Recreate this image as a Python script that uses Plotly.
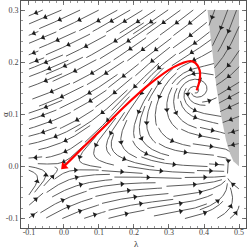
import math
import numpy as np
import plotly.graph_objects as go

# ---------------- chart values ----------------
X_RANGE = [-0.1228, 0.5200]
Y_RANGE = [-0.1183, 0.3173]
FIELD_X = [-0.1, 0.5]
FIELD_Y = [-0.1, 0.3]

# phase-portrait model (fixed points)
SADDLE_DIRS = [[1.0, -0.05], [1.0, 0.67]]   # unstable, stable eigen-directions at (0,0)
SADDLE_RATES = [1.0, -1.0]
FOCUS_POINT = [0.375, 0.143]                # unstable focus (counter-clockwise)
FOCUS_RATES = [0.5, 1.6]                    # growth, rotation
FOCUS_RADIUS_PX = 48.0
NODE_POINT = [0.466, -0.018]                # attracting point below the tip of the shaded region
NODE_RATES = [-20.0, -10.0, -1.0]           # horizontal, vertical (below), vertical (above)
NODE_RADIUS_PX = 36.0

# shaded (excluded) region boundary
BOUNDARY_Y = [0.0, 0.01, 0.025, 0.05, 0.1, 0.15, 0.2, 0.25, 0.3]
BOUNDARY_X = [0.5, 0.484, 0.474, 0.463, 0.448, 0.436, 0.427, 0.418, 0.41]
GRAY_FLOW_Y = [0.0, 0.05, 0.165, 0.3]
GRAY_FLOW_SLOPE = [0.1, 0.15, 0.45, 2.0]

# highlighted (red) trajectory, from origin to the focus
RED_X = [0.0, 0.06, 0.1223, 0.1708, 0.2478, 0.3133, 0.3618, 0.376, 0.3875, 0.3875, 0.379]
RED_Y = [0.0, 0.040, 0.0808, 0.1135, 0.1596, 0.1904, 0.2019, 0.198, 0.1846, 0.1654, 0.146]

X_TICKS = [-0.1, 0.0, 0.1, 0.2, 0.3, 0.4, 0.5]
X_TICK_TEXT = ["-0.1", "0.0", "0.1", "0.2", "0.3", "0.4", "0.5"]
Y_TICKS = [-0.1, 0.0, 0.1, 0.2, 0.3]
Y_TICK_TEXT = ["-0.1", "0.0", "0.1", "0.2", "0.3"]

# ---------------- geometry ----------------
W, H = 249, 249
ML, MR, MT, MB = 21, 3, 1, 21
PW, PH = W - ML - MR, H - MT - MB
SX = PW / (X_RANGE[1] - X_RANGE[0])
SY = PH / (Y_RANGE[1] - Y_RANGE[0])

V = np.array(SADDLE_DIRS).T
J0 = (V @ np.diag(SADDLE_RATES) @ np.linalg.inv(V)).tolist()
sg, om = FOCUS_RATES
JF = [[sg, -om * SY / SX], [om * SX / SY, sg]]
F0, F1 = FOCUS_POINT
RF2 = FOCUS_RADIUS_PX ** 2
N0, N1 = NODE_POINT
RN2 = NODE_RADIUS_PX ** 2


def in_gray(x, y):
    if y < BOUNDARY_Y[0] or y > BOUNDARY_Y[-1] or x > 0.5:
        return False
    return x >= float(np.interp(y, BOUNDARY_Y, BOUNDARY_X))


def white_vel(x, y):
    dx, dy = x - F0, y - F1
    wf = math.exp(-((dx * SX) ** 2 + (dy * SY) ** 2) / RF2)
    ex, ey = x - N0, y - N1
    wn = math.exp(-((ex * SX) ** 2 + (ey * SY) ** 2) / RN2)
    ax = J0[0][0] * x + J0[0][1] * y
    ay = J0[1][0] * x + J0[1][1] * y
    bx = JF[0][0] * dx + JF[0][1] * dy
    by = JF[1][0] * dx + JF[1][1] * dy
    cx = NODE_RATES[0] * ex
    cy = (NODE_RATES[1] if ey < 0 else NODE_RATES[2]) * ey
    w0 = max(0.0, 1 - wf - wn)
    return w0 * ax + wf * bx + wn * cx, w0 * ay + wf * by + wn * cy


def gray_vel(x, y):
    k = float(np.interp(y, GRAY_FLOW_Y, GRAY_FLOW_SLOPE))
    return -1.0, -k


def to_data(X, Y):
    return X / SX + X_RANGE[0], Y / SY + Y_RANGE[0]


def dir_px(X, Y, region):
    x, y = to_data(X, Y)
    if x < FIELD_X[0] or x > FIELD_X[1] or y < FIELD_Y[0] or y > FIELD_Y[1]:
        return None
    if in_gray(x, y) != region:
        return None
    vx, vy = gray_vel(x, y) if region else white_vel(x, y)
    if not region and math.hypot(vx, vy) < 0.003:
        return None
    ux, uy = vx * SX, vy * SY
    n = math.hypot(ux, uy)
    return ux / n, uy / n


DSEP, DTEST, STEP, HALF = 6.5, 3.0, 0.8, 34.0
grid = {}


def too_close(X, Y, d):
    ci, cj = int(X // DSEP), int(Y // DSEP)
    for i in range(ci - 1, ci + 2):
        for j in range(cj - 1, cj + 2):
            for (px, py) in grid.get((i, j), ()):
                if (px - X) ** 2 + (py - Y) ** 2 < d * d:
                    return True
    return False


def trace(X, Y, region, sign, others):
    pts = []
    prev = None
    for _ in range(int(HALF / STEP)):
        d1 = dir_px(X, Y, region)
        if d1 is None:
            break
        Xm, Ym = X + sign * 0.5 * STEP * d1[0], Y + sign * 0.5 * STEP * d1[1]
        d2 = dir_px(Xm, Ym, region)
        if d2 is None:
            break
        if prev is not None and d2[0] * prev[0] + d2[1] * prev[1] < 0.3:
            break
        Xn, Yn = X + sign * STEP * d2[0], Y + sign * STEP * d2[1]
        if too_close(Xn, Yn, DTEST):
            break
        bad = False
        for (qx, qy) in pts[:-12] + others:
            if (qx - Xn) ** 2 + (qy - Yn) ** 2 < DTEST * DTEST:
                bad = True
                break
        if bad:
            break
        pts.append((Xn, Yn))
        X, Y, prev = Xn, Yn, d2
    return pts


lines = {False: [], True: []}
X_lo, X_hi = (FIELD_X[0] - X_RANGE[0]) * SX, (FIELD_X[1] - X_RANGE[0]) * SX
Y_lo, Y_hi = (FIELD_Y[0] - Y_RANGE[0]) * SY, (FIELD_Y[1] - Y_RANGE[0]) * SY
Ys = np.arange(Y_lo + 2, Y_hi - 1, DSEP)
Xs = np.arange(X_lo + 2, X_hi - 1, DSEP)
for Y0 in Ys[::-1]:
    for X0 in Xs:
        if too_close(X0, Y0, DSEP):
            continue
        x0, y0 = to_data(X0, Y0)
        region = in_gray(x0, y0)
        if dir_px(X0, Y0, region) is None:
            continue
        fw = trace(X0, Y0, region, 1, [])
        bw = trace(X0, Y0, region, -1, fw[6:])
        line = bw[::-1] + [(X0, Y0)] + fw
        if len(line) * STEP < 9:
            continue
        for (px, py) in line:
            grid.setdefault((int(px // DSEP), int(py // DSEP)), []).append((px, py))
        lines[region].append(line)

# arrows
ax_x, ax_y, ax_ang = [], [], []
for reg in (False, True):
    for line in lines[reg]:
        L = (len(line) - 1) * STEP
        n = max(1, int(L / 48 + 0.5))
        for k in range(n):
            i = int((k + 0.5) / n * (len(line) - 1))
            i = min(max(i, 0), len(line) - 2)
            dX = line[i + 1][0] - line[i][0]
            dY = line[i + 1][1] - line[i][1]
            x, y = to_data(*line[i])
            ax_x.append(x)
            ax_y.append(y)
            ax_ang.append(math.degrees(math.atan2(dX, dY)))


def flat(ls):
    xs, ys = [], []
    for line in ls:
        for (px, py) in line:
            x, y = to_data(px, py)
            xs.append(x)
            ys.append(y)
        xs.append(None)
        ys.append(None)
    return xs, ys


fig = go.Figure()
gx = BOUNDARY_X[::-1] + [0.5]
gy = BOUNDARY_Y[::-1] + [0.3]
fig.add_trace(go.Scatter(x=gx, y=gy, mode="lines", fill="toself", fillcolor="#bdbdbd",
                         line=dict(width=0, color="#bdbdbd"), hoverinfo="skip"))
for reg in (False, True):
    xs, ys = flat(lines[reg])
    fig.add_trace(go.Scatter(x=xs, y=ys, mode="lines", line=dict(color="#4a4a4a", width=0.9),
                             hoverinfo="skip"))
fig.add_trace(go.Scatter(x=ax_x, y=ax_y, mode="markers",
                         marker=dict(symbol="triangle-up", size=5, angle=ax_ang, color="#1e1e1e",
                                     line=dict(width=0)), hoverinfo="skip"))
fig.add_trace(go.Scatter(x=RED_X, y=RED_Y, mode="lines", line=dict(color="#ff0000", width=2.2, shape="spline"),
                         hoverinfo="skip"))
ra = math.degrees(math.atan2((RED_X[0] - RED_X[1]) * SX, (RED_Y[0] - RED_Y[1]) * SY))
fig.add_trace(go.Scatter(x=[RED_X[0]], y=[RED_Y[0]], mode="markers",
                         marker=dict(symbol="triangle-up", size=8, angle=[ra], color="#ff0000"),
                         hoverinfo="skip"))

axis_common = dict(showline=True, linecolor="#555555", linewidth=1, mirror="ticks", ticks="inside",
                   ticklen=4, tickwidth=0.8, tickcolor="#555555", showgrid=False, zeroline=False,
                   automargin=False,
                   tickfont=dict(family="Liberation Serif", size=8, color="#444444"),
                   minor=dict(ticks="inside", ticklen=2, tickwidth=0.6, tickcolor="#555555", dtick=0.02,
                              tick0=0.0, showgrid=False))
fig.update_xaxes(range=X_RANGE, tickvals=X_TICKS, ticktext=X_TICK_TEXT, ticklabelstandoff=-4, **axis_common)
fig.update_yaxes(range=Y_RANGE, tickvals=Y_TICKS, ticktext=Y_TICK_TEXT, **axis_common)
fig.add_annotation(text="λ", xref="paper", yref="paper", x=(136 - ML) / PW, y=(H - MB - 244) / PH,
                   xanchor="center", yanchor="middle", showarrow=False,
                   font=dict(family="Liberation Serif", size=9, color="#333333"))
fig.add_annotation(text="α", xref="paper", yref="paper", x=(5 - ML) / PW, y=(H - MB - 115) / PH,
                   xanchor="center", yanchor="middle", showarrow=False, textangle=-90,
                   font=dict(family="Liberation Serif", size=9, color="#333333"))
fig.update_layout(template="none", width=W, height=H, margin=dict(l=ML, r=MR, t=MT, b=MB),
                  plot_bgcolor="white", paper_bgcolor="white", showlegend=False)
fig.write_html("out.html", config={"displayModeBar": False, "staticPlot": True},
               post_script="document.body.style.margin='0px';document.body.style.padding='0px';")
